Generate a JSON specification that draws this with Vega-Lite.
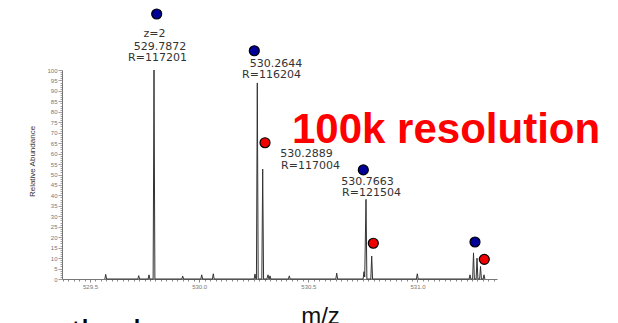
{
  "$schema": "https://vega.github.io/schema/vega-lite/v6.json",
  "width": 435,
  "height": 209,
  "autosize": {"type": "none"},
  "padding": {"left": 62, "top": 70, "right": 121, "bottom": 44},
  "background": "white",
  "config": {"view": {"stroke": null}},
  "datasets": {
    "spectrum": [
      {"mz": 529.5679, "a": 0}, {"mz": 529.5719, "a": 2.2}, {"mz": 529.5759, "a": 0},
      {"mz": 529.7191, "a": 0}, {"mz": 529.7231, "a": 1.6}, {"mz": 529.7271, "a": 0},
      {"mz": 529.7663, "a": 0}, {"mz": 529.7703, "a": 2.0}, {"mz": 529.7743, "a": 0},
      {"mz": 529.7892, "a": 0}, {"mz": 529.7932, "a": 100}, {"mz": 529.7972, "a": 0},
      {"mz": 529.9206, "a": 0}, {"mz": 529.9246, "a": 1.4}, {"mz": 529.9286, "a": 0},
      {"mz": 530.0077, "a": 0}, {"mz": 530.0117, "a": 2.0}, {"mz": 530.0157, "a": 0},
      {"mz": 530.0608, "a": 0}, {"mz": 530.0648, "a": 2.5}, {"mz": 530.0688, "a": 0},
      {"mz": 530.2518, "a": 0}, {"mz": 530.2558, "a": 2.4}, {"mz": 530.2598, "a": 0},
      {"mz": 530.2624, "a": 0}, {"mz": 530.2664, "a": 93.8}, {"mz": 530.2704, "a": 0},
      {"mz": 530.2871, "a": 0}, {"mz": 530.2911, "a": 52.6}, {"mz": 530.2951, "a": 0},
      {"mz": 530.3104, "a": 0}, {"mz": 530.3154, "a": 2.0}, {"mz": 530.3200, "a": 0},
      {"mz": 530.3205, "a": 0}, {"mz": 530.3245, "a": 1.5}, {"mz": 530.3285, "a": 0},
      {"mz": 530.4090, "a": 0}, {"mz": 530.4130, "a": 1.5}, {"mz": 530.4170, "a": 0},
      {"mz": 530.6261, "a": 0}, {"mz": 530.6301, "a": 2.8}, {"mz": 530.6341, "a": 0},
      {"mz": 530.7511, "a": 0}, {"mz": 530.7551, "a": 3.5}, {"mz": 530.7585, "a": 1.0}, {"mz": 530.7643, "a": 38.1}, {"mz": 530.7683, "a": 0},
      {"mz": 530.7864, "a": 0}, {"mz": 530.7904, "a": 11.0}, {"mz": 530.7944, "a": 0},
      {"mz": 530.9953, "a": 0}, {"mz": 530.9993, "a": 2.5}, {"mz": 531.0033, "a": 0},
      {"mz": 531.2367, "a": 0}, {"mz": 531.2407, "a": 2.0}, {"mz": 531.2447, "a": 0},
      {"mz": 531.2528, "a": 0}, {"mz": 531.2568, "a": 12.5}, {"mz": 531.2608, "a": 0},
      {"mz": 531.2688, "a": 0}, {"mz": 531.2728, "a": 10.0}, {"mz": 531.2768, "a": 0},
      {"mz": 531.2849, "a": 0}, {"mz": 531.2889, "a": 6.0}, {"mz": 531.2929, "a": 0},
      {"mz": 531.3009, "a": 0}, {"mz": 531.3049, "a": 2.0}, {"mz": 531.3089, "a": 0}
    ],
    "dots": [
      {"mz": 529.8055, "a": 126.8, "species": "A"},
      {"mz": 530.2526, "a": 109.2, "species": "A"},
      {"mz": 530.3017, "a": 65.2, "species": "B"},
      {"mz": 530.7520, "a": 52.2, "species": "A"},
      {"mz": 530.7978, "a": 17.1, "species": "B"},
      {"mz": 531.2636, "a": 17.7, "species": "A"},
      {"mz": 531.3062, "a": 9.4, "species": "B"}
    ],
    "labels": [
      {"mz": 529.7955, "a": 116.0, "text": "z=2"},
      {"mz": 529.8207, "a": 109.8, "text": "529.7872"},
      {"mz": 529.8092, "a": 104.3, "text": "R=117201"},
      {"mz": 530.3520, "a": 101.4, "text": "530.2644"},
      {"mz": 530.3314, "a": 96.0, "text": "R=116204"},
      {"mz": 530.4918, "a": 58.2, "text": "530.2889"},
      {"mz": 530.5101, "a": 52.8, "text": "R=117004"},
      {"mz": 530.7712, "a": 45.2, "text": "530.7663"},
      {"mz": 530.7895, "a": 39.8, "text": "R=121504"}
    ],
    "headline": [
      {"mz": 530.4253, "a": 65.1, "text": "100k resolution"}
    ],
    "footer": [
      {"mz": 529.1839, "a": -32.1, "text": "method"}
    ]
  },
  "encoding": {
    "x": {
      "field": "mz",
      "type": "quantitative",
      "scale": {"domain": [529.3717, 531.3644], "nice": false, "zero": false},
      "axis": {
        "title": "m/z",
        "titleFont": "Liberation Sans",
        "titleFontSize": 24,
        "titleFontWeight": "normal",
        "titleColor": "#111111",
        "titleX": 258,
        "titleY": 44,
        "titleAlign": "center",
        "titleBaseline": "alphabetic",
        "values": [529.375, 529.4, 529.425, 529.45, 529.475, 529.5, 529.525, 529.55, 529.575, 529.6, 529.625, 529.65, 529.675, 529.7, 529.725, 529.75, 529.775, 529.8, 529.825, 529.85, 529.875, 529.9, 529.925, 529.95, 529.975, 530, 530.025, 530.05, 530.075, 530.1, 530.125, 530.15, 530.175, 530.2, 530.225, 530.25, 530.275, 530.3, 530.325, 530.35, 530.375, 530.4, 530.425, 530.45, 530.475, 530.5, 530.525, 530.55, 530.575, 530.6, 530.625, 530.65, 530.675, 530.7, 530.725, 530.75, 530.775, 530.8, 530.825, 530.85, 530.875, 530.9, 530.925, 530.95, 530.975, 531, 531.025, 531.05, 531.075, 531.1, 531.125, 531.15, 531.175, 531.2, 531.225, 531.25, 531.275, 531.3, 531.325, 531.35],
        "labelExpr": "abs(datum.value*2 - round(datum.value*2)) < 0.001 ? format(datum.value, '.1f') : ''",
        "labelOverlap": false,
        "labelFont": "Liberation Sans",
        "labelFontSize": 6,
        "labelColor": "#777777",
        "labelPadding": 1,
        "labelFlush": false,
        "tickSize": {"condition": {"test": "abs(datum.value*2 - round(datum.value*2)) < 0.001", "value": 3}, "value": 2},
        "tickColor": "#888888",
        "tickWidth": 1,
        "domainColor": "#777777",
        "grid": false
      }
    },
    "y": {
      "field": "a",
      "type": "quantitative",
      "scale": {"domain": [0, 100], "nice": false},
      "axis": {
        "title": "Relative Abundance",
        "titleFont": "Liberation Sans",
        "titleFontSize": 8,
        "titleFontWeight": "normal",
        "titleColor": "#333333",
        "titleAngle": 270,
        "titleX": -28,
        "titleY": 91,
        "titleAlign": "center",
        "titleBaseline": "alphabetic",
        "values": [0,1,2,3,4,5,6,7,8,9,10,11,12,13,14,15,16,17,18,19,20,21,22,23,24,25,26,27,28,29,30,31,32,33,34,35,36,37,38,39,40,41,42,43,44,45,46,47,48,49,50,51,52,53,54,55,56,57,58,59,60,61,62,63,64,65,66,67,68,69,70,71,72,73,74,75,76,77,78,79,80,81,82,83,84,85,86,87,88,89,90,91,92,93,94,95,96,97,98,99,100],
        "labelExpr": "datum.value % 5 === 0 ? datum.label : ''",
        "labelOverlap": false,
        "labelFont": "Liberation Sans",
        "labelFontSize": 6,
        "labelColor": "#777777",
        "labelPadding": 1,
        "labelFlush": false,
        "tickSize": {"condition": {"test": "datum.value % 5 === 0", "value": 4}, "value": 2},
        "tickColor": "#888888",
        "tickWidth": 0.8,
        "domainColor": "#777777",
        "grid": false
      }
    }
  },
  "layer": [
    {
      "data": {"name": "spectrum"},
      "mark": {"type": "line", "color": "#333333", "strokeWidth": 1, "interpolate": "linear"}
    },
    {
      "data": {"name": "dots"},
      "mark": {"type": "circle", "size": 100, "stroke": "black", "strokeWidth": 1.2, "opacity": 1},
      "encoding": {
        "color": {
          "field": "species",
          "type": "nominal",
          "scale": {"domain": ["A", "B"], "range": ["#000096", "#f00000"]},
          "legend": null
        }
      }
    },
    {
      "data": {"name": "labels"},
      "mark": {"type": "text", "font": "DejaVu Sans", "fontSize": 11, "color": "#333333", "align": "center", "baseline": "alphabetic"},
      "encoding": {"text": {"field": "text", "type": "nominal"}}
    },
    {
      "data": {"name": "headline"},
      "mark": {"type": "text", "font": "Liberation Sans", "fontSize": 42, "fontWeight": "bold", "color": "#ff0000", "align": "left", "baseline": "alphabetic"},
      "encoding": {"text": {"field": "text", "type": "nominal"}}
    },
    {
      "data": {"name": "footer"},
      "mark": {"type": "text", "font": "Liberation Sans", "fontSize": 36, "color": "#000000", "align": "left", "baseline": "alphabetic"},
      "encoding": {"text": {"field": "text", "type": "nominal"}}
    }
  ]
}
